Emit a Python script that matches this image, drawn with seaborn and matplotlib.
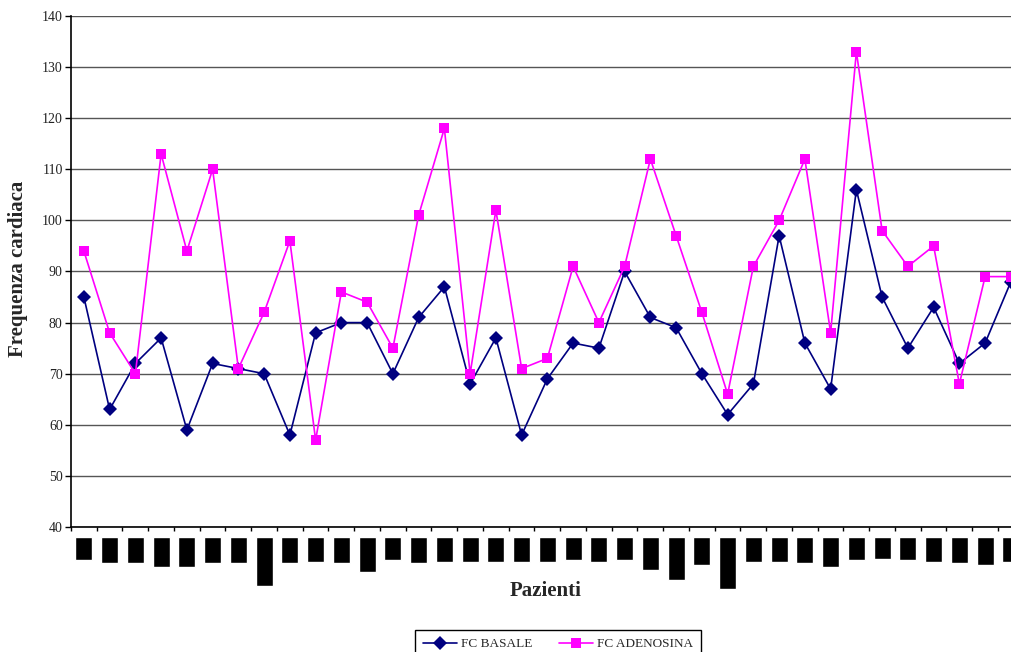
import numpy as np
import pandas as pd
import matplotlib
matplotlib.use('Agg')
import matplotlib.pyplot as plt
import seaborn as sns

# values, one per patient
fc_basale = [85, 63, 72, 77, 59, 72, 71, 70, 58, 78, 80, 80, 70, 81, 87, 68, 77, 58, 69,
             76, 75, 90, 81, 79, 70, 62, 68, 97, 76, 67, 106, 85, 75, 83, 72, 76, 88]
fc_adenosina = [94, 78, 70, 113, 94, 110, 71, 82, 96, 57, 86, 84, 75, 101, 118, 70, 102, 71, 73,
                91, 80, 91, 112, 97, 82, 66, 91, 100, 112, 78, 133, 98, 91, 95, 68, 89, 89]
series_names = ['FC BASALE', 'FC ADENOSINA']
# the patient labels are blacked out in the source: heights of the black boxes (px)
label_box_heights = [23, 26, 26, 30, 30, 26, 26, 49, 26, 25, 26, 35, 23, 26, 25, 25, 25, 25, 25,
                     23, 25, 23, 33, 43, 28, 52, 25, 25, 26, 30, 23, 22, 23, 25, 26, 28, 25]

n = len(fc_basale)
df = pd.DataFrame({
    'Paziente': list(range(n)) * 2,
    'FC': fc_basale + fc_adenosina,
    'Serie': [series_names[0]] * n + [series_names[1]] * n,
})

sns.set_style('white')
plt.rcParams['font.family'] = ['Liberation Serif', 'DejaVu Serif']

W, H = 1012, 652
fig = plt.figure(figsize=(W / 100, H / 100), dpi=100)
ax = fig.add_axes([71 / W, 1 - 527 / H, (37 * 25.75) / W, 511 / H])

sns.lineplot(data=df, x='Paziente', y='FC', hue='Serie', style='Serie',
             markers=['D', 's'], dashes=False, palette=['#000080', '#FF00FF'],
             markersize=7.5, linewidth=1.2, markeredgewidth=0, legend=True, ax=ax)

ax.set_xlim(-0.5, n - 0.5)
ax.set_ylim(40, 140)
ax.set_yticks(np.arange(40, 141, 10))
ax.set_xticks(np.arange(n) - 0.5)
ax.set_xticklabels([])
ax.set_xlabel('')
ax.set_ylabel('')
ax.yaxis.grid(True, color='#555555', linewidth=1)
ax.set_axisbelow(True)
for s in ['top', 'right']:
    ax.spines[s].set_visible(False)
for s in ['left', 'bottom']:
    ax.spines[s].set_color('black')
    ax.spines[s].set_linewidth(1.2)
ax.tick_params(axis='y', left=True, length=4, width=1, color='black', pad=2,
               labelsize=10, labelcolor='#222222')
ax.tick_params(axis='x', bottom=True, length=3, width=1, color='black')

# legend at the bottom, as in the Excel chart (its lower edge runs off the picture)
handles, labels = ax.get_legend_handles_labels()
ax.get_legend().remove()
leg = fig.legend(handles, labels, loc='upper center', ncol=2,
                 bbox_to_anchor=(558 / W, 1 - 630 / H), borderaxespad=0,
                 fontsize=9.5, frameon=True, fancybox=False, edgecolor='black',
                 framealpha=1, handlelength=2.6, columnspacing=2.0,
                 borderpad=0.6, handletextpad=0.3)
leg.get_frame().set_linewidth(1)

# blacked-out patient names
ax_lab = fig.add_axes([71 / W, 1 - 592 / H, (37 * 25.75) / W, 55 / H])
ax_lab.bar(np.arange(n), label_box_heights, width=0.66, color='black')
ax_lab.set_xlim(-0.5, n - 0.5)
ax_lab.set_ylim(55, 0)
ax_lab.axis('off')

fig.text(546 / W, 1 - 591 / H, 'Pazienti', ha='center', va='center',
         fontsize=15, fontweight='bold')
fig.text(18 / W, 1 - 357 / H, 'Frequenza cardiaca', ha='center', va='bottom',
         rotation=90, fontsize=15, fontweight='bold')

fig.savefig('out.png', dpi=100)
